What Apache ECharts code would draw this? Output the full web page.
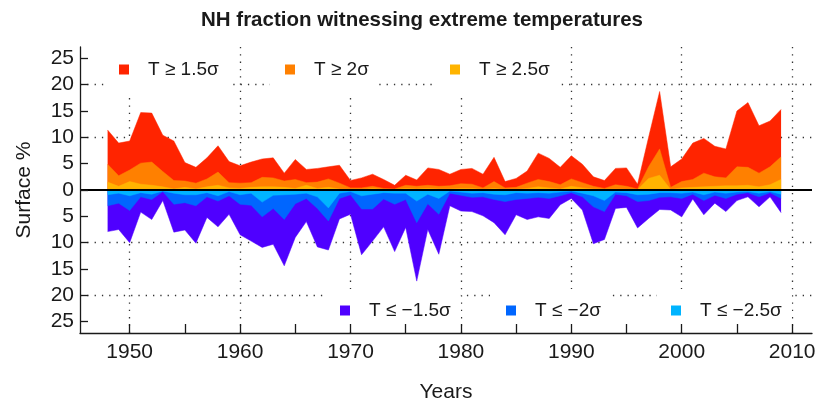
<!DOCTYPE html>
<html>
<head>
<meta charset="utf-8">
<script src="https://cdn.jsdelivr.net/npm/echarts@6/dist/echarts.min.js"></script>
<style>
   html, body { margin: 0; padding: 0; background: #ffffff; }
   #grafica { width: 818px; height: 403px; }
</style>
</head>
<body>
<div id="grafica"></div>
<script>
// ── Datos ───────────────────────────────────────────────────────────────────
const anios = [
   1948, 1949, 1950, 1951, 1952, 1953, 1954, 1955, 1956, 1957,
   1958, 1959, 1960, 1961, 1962, 1963, 1964, 1965, 1966, 1967,
   1968, 1969, 1970, 1971, 1972, 1973, 1974, 1975, 1976, 1977,
   1978, 1979, 1980, 1981, 1982, 1983, 1984, 1985, 1986, 1987,
   1988, 1989, 1990, 1991, 1992, 1993, 1994, 1995, 1996, 1997,
   1998, 1999, 2000, 2001, 2002, 2003, 2004, 2005, 2006, 2007,
   2008, 2009
];

const calido15 = [
   11.4, 8.9, 9.3, 14.7, 14.6, 10.4, 9.3, 5.2, 4.3, 6.1,
   8.4, 5.4, 4.6, 5.3, 5.9, 6.1, 3.2, 5.8, 3.9, 4.1,
   4.4, 4.7, 1.8, 2.3, 3.0, 2.0, 0.9, 2.8, 1.9, 4.2,
   3.9, 3.0, 3.9, 4.1, 3.0, 6.2, 1.6, 2.2, 3.6, 7.0,
   6.0, 4.3, 6.5, 4.9, 2.5, 1.8, 4.1, 4.2, 1.1, 10.0,
   18.7, 4.4, 5.9, 8.9, 9.8, 8.3, 7.8, 15.0, 16.6, 12.2,
   13.1, 15.3
];
const calido20 = [
   4.9, 2.7, 3.8, 5.1, 5.3, 3.5, 1.8, 1.7, 1.3, 2.1,
   3.4, 1.4, 1.3, 1.4, 2.4, 2.3, 1.7, 2.0, 1.4, 1.5,
   2.1, 1.3, 0.4, 0.4, 0.7, 0.3, 0.2, 0.9, 0.7, 0.9,
   0.7, 0.8, 1.2, 1.1, 0.4, 1.6, 0.4, 0.5, 1.3, 2.0,
   1.6, 1.0, 2.1, 1.4, 0.7, 0.3, 1.0, 0.7, 0.2, 4.4,
   7.8, 0.5, 1.6, 2.0, 3.2, 2.5, 2.3, 4.4, 4.3, 3.2,
   4.4, 6.3
];
const calido25 = [
   1.5, 0.7, 1.6, 1.1, 0.9, 0.6, 0.2, 0.5, 0.2, 0.6,
   0.9, 0.4, 0.3, 0.5, 0.6, 0.6, 0.5, 0.3, 0.9, 0.3,
   0.5, 0.2, 0.1, 0.1, 0.3, 0.1, 0.1, 0.3, 0.2, 0.3,
   0.2, 0.2, 0.3, 0.3, 0.1, 0.3, 0.1, 0.1, 0.3, 0.6,
   0.4, 0.2, 0.7, 0.4, 0.2, 0.1, 0.2, 0.1, 0.05, 2.2,
   2.8, 0.1, 0.4, 0.5, 0.6, 0.7, 0.8, 0.8, 0.9, 0.6,
   1.0, 2.0
];

const frio15 = [
   -7.9, -7.5, -10.0, -4.2, -5.6, -2.0, -8.0, -7.6, -10.1, -5.2,
   -7.0, -4.6, -8.5, -9.7, -10.9, -10.3, -14.4, -9.0, -6.0, -10.8,
   -11.4, -5.5, -4.6, -12.3, -9.7, -7.0, -11.7, -7.1, -17.3, -7.5,
   -12.2, -3.0, -4.0, -4.1, -4.9, -6.2, -8.5, -4.7, -5.6, -5.1,
   -5.4, -2.8, -1.6, -3.8, -10.2, -9.4, -3.5, -3.3, -7.2, -5.4,
   -3.7, -3.8, -5.1, -1.7, -4.7, -2.5, -4.1, -2.0, -1.3, -3.2,
   -1.3, -4.3
];
const frio20 = [
   -3.0, -2.5, -3.9, -1.3, -1.8, -0.3, -2.7, -2.4, -3.0, -1.3,
   -2.1, -1.1, -2.7, -2.9, -5.1, -3.5, -5.6, -2.6, -1.6, -3.5,
   -5.9, -1.6, -0.9, -3.6, -3.6, -1.7, -2.7, -1.8, -6.2, -2.6,
   -4.6, -0.6, -1.0, -1.4, -1.3, -1.8, -2.2, -1.8, -1.6, -1.4,
   -1.6, -1.1, -0.5, -1.3, -3.2, -4.1, -0.8, -1.1, -2.2, -2.0,
   -1.4, -1.3, -1.6, -0.8, -2.0, -1.0, -1.6, -0.8, -0.5, -1.3,
   -0.5, -1.6
];
const frio25 = [
   -0.9, -0.6, -1.1, -0.5, -0.8, -0.2, -0.6, -0.9, -0.9, -0.5,
   -1.1, -0.3, -0.9, -0.6, -2.3, -1.0, -0.9, -0.8, -0.6, -1.3,
   -3.4, -0.6, -0.3, -1.1, -0.8, -0.5, -0.6, -0.6, -2.1, -0.8,
   -1.6, -0.2, -0.4, -0.6, -0.5, -0.8, -0.9, -0.5, -0.6, -0.5,
   -0.6, -0.4, -0.2, -0.6, -1.1, -2.0, -0.4, -0.5, -0.9, -0.8,
   -0.5, -0.5, -0.6, -0.4, -0.9, -0.4, -0.6, -0.4, -0.3, -0.6,
   -0.3, -0.8
];

const ticksX = [1950, 1955, 1960, 1965, 1970, 1975, 1980, 1985, 1990, 1995, 2000, 2005, 2010];
const etiquetasX = [1950, 1960, 1970, 1980, 1990, 2000, 2010];
const ticksY = [-25, -20, -15, -10, -5, 0, 5, 10, 15, 20, 25];
const guiasX = [1950, 1960, 1970, 1980, 1990, 2000, 2010];
const guiasY = [-20, -10, 10, 20];

const nombres = {
   c15: "T ≥ 1.5σ", c20: "T ≥ 2σ", c25: "T ≥ 2.5σ",
   f15: "T ≤ −1.5σ", f20: "T ≤ −2σ", f25: "T ≤ −2.5σ"
};

// ── Paleta ───────────────────────────────────────────────────────────────────
const colores = {
   rojo: "#ff2400",
   naranja: "#ff8000",
   ambar: "#ffb400",
   morado: "#4f00ff",
   azul: "#0066ff",
   celeste: "#00b4ff",
   texto: "#1a1a1a",
   guia: "#333333",
   blanco: "#ffffff"
};
const fuente = "'Liberation Sans', Arial, sans-serif";

const grafica = echarts.init(document.getElementById("grafica"));

const fnSerieArea = (nombre, valores, color, capa) => ({
   name: nombre,
   type: "line",
   data: anios.map((anio, i) => [anio, valores[i]]),
   symbol: "none",
   showSymbol: false,
   lineStyle: { width: 0.5, color: color },
   itemStyle: { color: color },
   areaStyle: { color: color, opacity: 1 },
   z: capa,
   silent: true
});

// cada leyenda lleva su propio recuadro blanco que tapa las guias punteadas
const fnLeyenda = (nombre, izquierda, arriba, relleno) => ({
   data: [nombre],
   left: izquierda,
   top: arriba,
   icon: "rect",
   itemWidth: 10,
   itemHeight: 10,
   backgroundColor: colores.blanco,
   padding: relleno,
   selectedMode: false,
   z: 5,
   textStyle: { fontSize: 19, color: colores.texto, fontFamily: fuente, padding: [0, 0, 0, 14] }
});

const ejeBase = {
   type: "value",
   z: 12,
   axisLine: { show: true, onZero: false, lineStyle: { color: colores.texto, width: 1.3 } },
   splitLine: { show: false },
   nameLocation: "middle",
   nameTextStyle: { fontSize: 21, color: colores.texto, fontFamily: fuente }
};

const opcion = {
   animation: false,
   backgroundColor: colores.blanco,
   title: {
      text: "NH fraction witnessing extreme temperatures",
      left: 196,
      top: 5,
      textStyle: { fontSize: 20.5, fontWeight: "bold", color: colores.texto, fontFamily: fuente }
   },
   legend: [
      fnLeyenda(nombres.c15, 105, 47, [13, 10, 13, 14]),
      fnLeyenda(nombres.c20, 270, 47, [13, 10, 13, 15]),
      fnLeyenda(nombres.c25, 437, 47, [13, 10, 13, 13]),
      fnLeyenda(nombres.f15, 325, 289, [12, 10, 12, 15]),
      fnLeyenda(nombres.f20, 490, 289, [12, 10, 12, 16]),
      fnLeyenda(nombres.f25, 657, 289, [12, 10, 12, 14])
   ],
   grid: { left: 80, right: 6, top: 47, bottom: 70, containLabel: false, outerBoundsMode: "none" },
   xAxis: {
      ...ejeBase,
      min: 1945.5,
      max: 2011.8,
      name: "Years",
      nameGap: 49,
      axisTick: { show: true, inside: true, length: 9, customValues: ticksX, lineStyle: { color: colores.texto, width: 1.3 } },
      axisLabel: { customValues: etiquetasX, margin: 9, fontSize: 21, color: colores.texto, fontFamily: fuente, formatter: v => String(v) }
   },
   yAxis: {
      ...ejeBase,
      min: -27.15,
      max: 27.15,
      name: "Surface %",
      nameGap: 45,
      axisTick: { show: true, inside: true, length: 8, customValues: ticksY, lineStyle: { color: colores.texto, width: 1.3 } },
      axisLabel: { customValues: ticksY, margin: 6, fontSize: 21, color: colores.texto, fontFamily: fuente, formatter: v => String(Math.abs(v)) }
   },
   series: [
      {
         name: "guias",
         type: "line",
         data: [],
         silent: true,
         markLine: {
            z: 1,
            silent: true,
            symbol: "none",
            label: { show: false },
            lineStyle: { color: colores.guia, width: 1.3, type: [1.3, 6] },
            data: [...guiasX.map(v => ({ xAxis: v })), ...guiasY.map(v => ({ yAxis: v }))]
         }
      },
      fnSerieArea(nombres.c15, calido15, colores.rojo, 2),
      fnSerieArea(nombres.c20, calido20, colores.naranja, 3),
      fnSerieArea(nombres.c25, calido25, colores.ambar, 4),
      fnSerieArea(nombres.f15, frio15, colores.morado, 2),
      fnSerieArea(nombres.f20, frio20, colores.azul, 3),
      fnSerieArea(nombres.f25, frio25, colores.celeste, 4),
      {
         name: "cero",
         type: "line",
         data: [],
         silent: true,
         markLine: {
            z: 10,
            silent: true,
            symbol: "none",
            label: { show: false },
            lineStyle: { color: "#000000", width: 2, type: "solid" },
            data: [{ yAxis: 0 }]
         }
      }
   ]
};

grafica.setOption(opcion);
</script>
</body>
</html>
